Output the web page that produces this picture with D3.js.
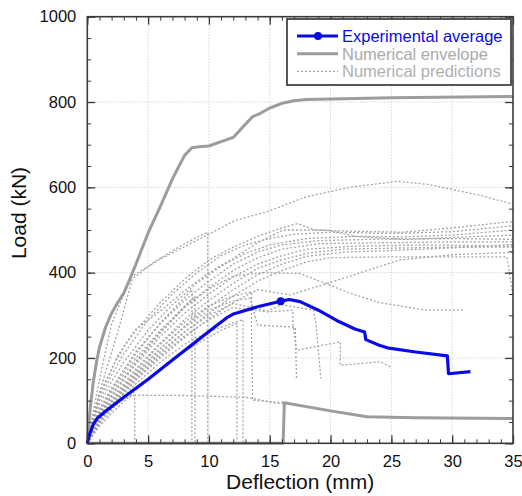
<!DOCTYPE html>
<html>
<head>
<meta charset="utf-8">
<script src="https://cdn.jsdelivr.net/npm/d3@7"></script>
<style>
  body { margin: 0; background: #fff; }
  text { font-family: "Liberation Sans", Arial, Helvetica, sans-serif; }
</style>
</head>
<body>
<div id="chart"></div>
<script>
'use strict';

var xTicks = [0, 5, 10, 15, 20, 25, 30, 35];
var yTicks = [0, 200, 400, 600, 800, 1000];
var legendLabels = ['Experimental average', 'Numerical envelope', 'Numerical predictions'];

// experimental average [deflection mm, load kN]
var experimental = [[0, 0], [0.2, 22], [0.5, 45], [0.8, 58], [1.5, 75], [3, 108], [5, 150], [7, 195], [9, 240],
  [10.5, 273], [11.5, 295], [12, 303], [12.5, 307], [14, 320], [15.9, 333], [16.6, 337], [17.5, 332], [19, 312],
  [20.5, 288], [22, 268], [22.8, 261], [22.9, 243], [24, 230], [24.8, 223], [27, 214], [29.6, 205],
  [29.7, 163], [31.5, 168]];
var experimentalPeak = [[15.9, 333]];

// numerical envelope, upper and lower
var envelopeUpper = [[0, 0], [0.25, 85], [0.5, 145], [0.75, 190], [1, 225], [1.5, 272], [2, 305], [2.5, 330],
  [3, 352], [3.5, 385], [4, 420], [5, 493], [6, 555], [7, 620], [8, 675], [8.6, 693], [9.2, 695], [10, 697],
  [11, 707], [12, 717], [13, 748], [13.6, 766], [14.2, 773], [15, 786], [16, 797], [17, 803], [18, 806],
  [20, 807], [25, 810], [35, 813]];
var envelopeLower = [[0, 0], [16.1, 0], [16.2, 95], [20, 76], [23, 62], [27, 60], [35, 58]];

// numerical predictions (one array per model)
var predictions = [
  [[0, 0], [1, 150], [2, 280], [3.6, 390], [6, 432], [9.3, 480], [12.2, 523], [14.8, 543], [18, 578], [21.6, 600], [25.5, 614], [28, 607], [30, 595], [32.5, 580], [35, 560]],
  [[0, 0], [1, 120], [2.5, 260], [3.7, 385], [5.5, 425], [8, 468], [9.9, 495], [9.9, 0]],
  [[0, 0], [1, 110], [2.5, 205], [3.9, 265], [6, 310], [8, 358], [10, 400], [12.2, 437], [14, 470], [16.1, 500], [19.7, 500], [22, 485], [26, 478], [30, 480], [35, 478]],
  [[0, 0], [0.5, 70], [1, 115], [2, 175], [3, 225], [4, 265], [6, 330], [8, 385], [10, 430], [12, 460], [14, 485], [16, 505], [17.3, 515], [18.7, 500], [22, 497], [26, 495], [30, 505], [35, 520]],
  [[0, 0], [0.5, 60], [1, 100], [2, 160], [3, 210], [5, 290], [7, 350], [9, 400], [11, 440], [13, 465], [15, 480], [17, 490], [20, 495], [25, 492], [30, 496], [35, 510]],
  [[0, 0], [0.5, 55], [1, 90], [2, 145], [3, 190], [5, 265], [7, 325], [9, 375], [11, 415], [13, 445], [15, 465], [18, 480], [22, 485], [26, 484], [30, 488], [35, 500]],
  [[0, 0], [0.5, 50], [1, 80], [2, 130], [4, 215], [6, 280], [8, 335], [10, 380], [12, 420], [14, 448], [16, 465], [19, 475], [23, 478], [28, 480], [35, 488]],
  [[0, 0], [0.5, 45], [1, 75], [2, 120], [4, 200], [6, 265], [8, 320], [10, 365], [12, 405], [14, 435], [16, 455], [19, 468], [24, 470], [30, 472], [35, 472]],
  [[0, 0], [0.5, 42], [1, 70], [2, 112], [4, 185], [6, 250], [8, 305], [10, 350], [12, 390], [14, 420], [16, 440], [18, 455], [22, 462], [28, 465], [35, 462]],
  [[0, 0], [0.5, 40], [1, 65], [2, 105], [4, 175], [6, 235], [8, 290], [10, 335], [12, 375], [14, 410], [16, 430], [18, 445], [21, 455], [26, 458], [31, 460], [35, 460]],
  [[0, 0], [0.5, 38], [1, 60], [2, 98], [4, 165], [6, 222], [8, 275], [10, 320], [12, 360], [14, 395], [16, 420], [18, 438], [21, 448], [25, 452], [30, 458], [35, 466]],
  [[0, 0], [0.5, 35], [1, 55], [2, 90], [4, 155], [6, 210], [8, 260], [10, 305], [12, 345], [14, 380], [16, 405], [18, 425], [20, 435], [25, 437], [34.5, 437], [35, 345]],
  [[0, 0], [0.5, 33], [1, 52], [2, 85], [4, 148], [6, 200], [8, 248], [10, 292], [12, 330], [14, 360], [16.7, 348], [20.2, 379], [25.7, 430], [30, 442], [35, 448]],
  [[0, 0], [1, 68], [2, 112], [4, 190], [6, 258], [8, 318], [10, 362], [12, 392], [14.5, 400], [17.5, 398], [21.6, 352], [24, 330], [27.9, 312], [30.9, 312]],
  [[0, 0], [1, 55], [2, 88], [2.9, 113], [8, 112], [13, 108], [14.5, 100], [15.5, 94], [16.1, 92]],
  [[0, 0], [1.5, 70], [3, 104], [3.9, 112], [3.9, 0]],
  [[0, 0], [1, 75], [2, 125], [4, 210], [6, 282], [8, 342], [8.6, 360], [8.6, 0]],
  [[0, 0], [1, 66], [2, 112], [4, 192], [6, 262], [8, 322], [8.85, 345], [8.85, 0]],
  [[0, 0], [1, 40], [2, 70], [4, 125], [6, 175], [8, 215], [9.3, 238], [11, 265], [12.3, 281], [12.3, 0]],
  [[0, 0], [1, 45], [2, 78], [4, 140], [6, 190], [8, 232], [10, 262], [12.8, 290], [12.8, 0]],
  [[0, 0], [1, 62], [2, 100], [4, 170], [6, 232], [8, 284], [10, 322], [12, 345], [13.5, 355], [13.5, 258], [13.6, 101], [14.8, 98], [16.1, 96]],
  [[0, 0], [1, 58], [2, 95], [4, 162], [6, 222], [8, 272], [10, 312], [12, 334], [13.4, 340], [14, 277], [17.1, 272], [17.2, 150]],
  [[0, 0], [1, 50], [2, 84], [4, 150], [6, 205], [8, 252], [10, 290], [12, 318], [14.8, 308], [16.9, 312], [16.9, 281], [17.2, 218], [20.8, 238], [20.8, 183], [24.1, 191], [25, 178]],
  [[0, 0], [1, 52], [2, 90], [4, 158], [6, 215], [8, 262], [10, 300], [12, 328], [14.8, 310], [16, 325], [18.6, 312], [18.8, 280], [19.2, 152]]
];

var totalWidth = 522;
var totalHeight = 496;
var margin = { top: 16.7, right: 9, bottom: 52.7, left: 87.3 };
var width = totalWidth - margin.left - margin.right;
var height = totalHeight - margin.top - margin.bottom;

var blue = '#0a0ae6';
var envelopeColor = '#9c9c9c';
var predictionColor = '#a4a4a4';
var frameColor = '#3a3a3a';

var x = d3.scaleLinear().domain([0, 35]).range([0, width]);
var y = d3.scaleLinear().domain([0, 1000]).range([height, 0]);

var svg = d3.select('#chart').append('svg')
  .attr('width', totalWidth)
  .attr('height', totalHeight)
  .append('g')
  .attr('transform', 'translate(' + margin.left + ',' + margin.top + ')');

// grid
svg.append('g').selectAll('line.vgrid')
  .data(xTicks.slice(1, -1))
  .enter().append('line')
  .attr('x1', function(d) { return x(d); })
  .attr('x2', function(d) { return x(d); })
  .attr('y1', 0).attr('y2', height)
  .attr('stroke', '#c4c4c4').attr('stroke-width', 1).attr('stroke-dasharray', '1,2');
svg.append('g').selectAll('line.hgrid')
  .data(yTicks.slice(1, -1))
  .enter().append('line')
  .attr('x1', 0).attr('x2', width)
  .attr('y1', function(d) { return y(d); })
  .attr('y2', function(d) { return y(d); })
  .attr('stroke', '#c4c4c4').attr('stroke-width', 1).attr('stroke-dasharray', '1,2');

var line = d3.line()
  .x(function(d) { return x(d[0]); })
  .y(function(d) { return y(d[1]); });

var plot = svg.append('g');

plot.selectAll('path.pred')
  .data(predictions)
  .enter().append('path')
  .attr('class', 'pred')
  .attr('d', line)
  .attr('fill', 'none')
  .attr('stroke', predictionColor)
  .attr('stroke-width', 1.3)
  .attr('stroke-dasharray', '2,2');

[envelopeUpper, envelopeLower].forEach(function(data) {
  plot.append('path')
    .datum(data)
    .attr('d', line)
    .attr('fill', 'none')
    .attr('stroke', envelopeColor)
    .attr('stroke-width', 3)
    .attr('stroke-linejoin', 'round');
});

plot.append('path')
  .datum(experimental)
  .attr('d', line)
  .attr('fill', 'none')
  .attr('stroke', blue)
  .attr('stroke-width', 3.2)
  .attr('stroke-linejoin', 'round');

plot.selectAll('circle.peak')
  .data(experimentalPeak)
  .enter().append('circle')
  .attr('cx', function(d) { return x(d[0]); })
  .attr('cy', function(d) { return y(d[1]); })
  .attr('r', 4)
  .attr('fill', blue);

// ticks, inward, on all four sides
var xMinor = d3.range(0, 36, 1);
var yMinor = d3.range(0, 1001, 50);

function minorTicks(axis, transform, minor) {
  var g1 = svg.append('g').attr('transform', transform)
    .call(axis.tickValues(minor).tickSize(-4).tickFormat(''));
  g1.select('.domain').remove();
  g1.selectAll('line').attr('stroke', frameColor).attr('stroke-width', 1);
}

minorTicks(d3.axisBottom(x), 'translate(0,' + height + ')', xMinor);
minorTicks(d3.axisTop(x), 'translate(0,0)', xMinor);
minorTicks(d3.axisLeft(y), 'translate(0,0)', yMinor);
minorTicks(d3.axisRight(y), 'translate(' + width + ',0)', yMinor);

var xAxis = svg.append('g')
  .attr('transform', 'translate(0,' + height + ')')
  .call(d3.axisBottom(x).tickValues(xTicks).tickSize(-8).tickPadding(12).tickFormat(d3.format('d')));
var xAxisTop = svg.append('g')
  .call(d3.axisTop(x).tickValues(xTicks).tickSize(-8).tickFormat(''));
var yAxis = svg.append('g')
  .call(d3.axisLeft(y).tickValues(yTicks).tickSize(-8).tickPadding(11).tickFormat(d3.format('d')));
var yAxisRight = svg.append('g')
  .attr('transform', 'translate(' + width + ',0)')
  .call(d3.axisRight(y).tickValues(yTicks).tickSize(-8).tickFormat(''));

[xAxis, xAxisTop, yAxis, yAxisRight].forEach(function(g) {
  g.select('.domain').remove();
  g.selectAll('line').attr('stroke', frameColor).attr('stroke-width', 1.3);
  g.selectAll('text')
    .style('font-size', '16.5px')
    .attr('fill', '#111');
});

svg.append('rect')
  .attr('x', 0).attr('y', 0)
  .attr('width', width).attr('height', height)
  .attr('fill', 'none')
  .attr('stroke', frameColor)
  .attr('stroke-width', 1.6);

// axis titles
svg.append('text')
  .attr('x', width / 2)
  .attr('y', height + 46)
  .attr('text-anchor', 'middle')
  .style('font-size', '21px')
  .attr('fill', '#111')
  .text('Deflection (mm)');

svg.append('text')
  .attr('transform', 'rotate(-90)')
  .attr('x', -(height / 2) + 17)
  .attr('y', -61)
  .attr('text-anchor', 'middle')
  .style('font-size', '21px')
  .attr('fill', '#111')
  .text('Load (kN)');

// legend
var legend = svg.append('g').attr('transform', 'translate(' + (287 - margin.left) + ',' + (19 - margin.top) + ')');
legend.append('rect')
  .attr('x', 0).attr('y', 0)
  .attr('width', 224).attr('height', 66)
  .attr('fill', '#fff')
  .attr('stroke', '#444')
  .attr('stroke-width', 1.8);

var legendStyles = [
  { color: blue, width: 3, dash: null, text: blue },
  { color: envelopeColor, width: 3, dash: null, text: '#aaa' },
  { color: predictionColor, width: 1.2, dash: '2,2', text: '#b0b0b0' }
];

legendLabels.forEach(function(label, i) {
  var yy = 17 + i * 17.7;
  var s = legendStyles[i];
  legend.append('line')
    .attr('x1', 10).attr('x2', 51)
    .attr('y1', yy).attr('y2', yy)
    .attr('stroke', s.color)
    .attr('stroke-width', s.width)
    .attr('stroke-dasharray', s.dash);
  if (i === 0) {
    legend.append('circle').attr('cx', 31).attr('cy', yy).attr('r', 4).attr('fill', blue);
  }
  legend.append('text')
    .attr('x', 55)
    .attr('y', yy + 6)
    .style('font-size', '16.5px')
    .attr('fill', s.text)
    .text(label);
});
</script>
</body>
</html>
